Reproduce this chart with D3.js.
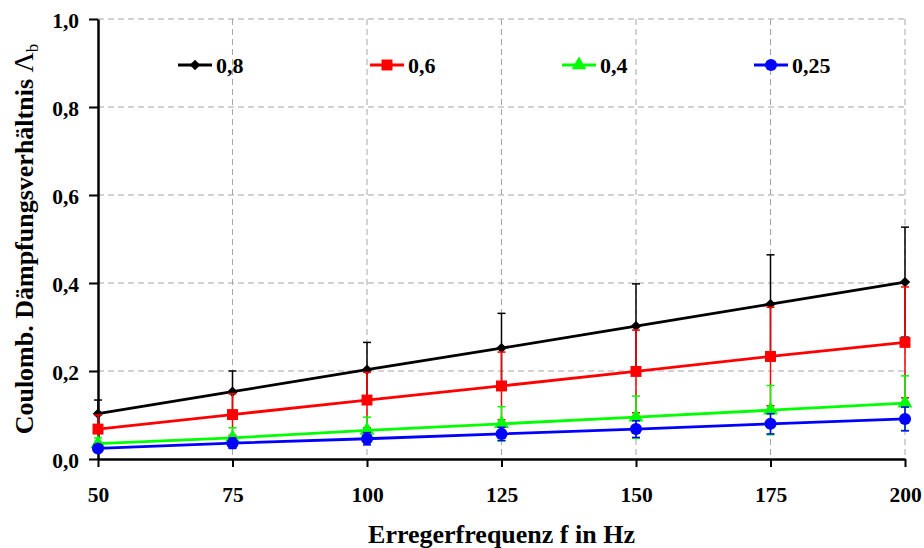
<!DOCTYPE html>
<html>
<head>
<meta charset="utf-8">
<script src="https://cdn.jsdelivr.net/npm/d3@7"></script>
<style>
  body { margin: 0; background: #fff; }
  text { font-family: "Liberation Serif", "Times New Roman", serif; font-weight: bold; }
</style>
</head>
<body>
<div id="chart"></div>
<script>
var svgWidth = 924;
var svgHeight = 548;

// data
var frequencies = [50, 75, 100, 125, 150, 175, 200];
var seriesNames = ["0,8", "0,6", "0,4", "0,25"];
var values08 = [0.103, 0.153, 0.203, 0.252, 0.302, 0.352, 0.402];
var errors08 = [0.031, 0.047, 0.062, 0.079, 0.096, 0.112, 0.125];
var values06 = [0.068, 0.101, 0.134, 0.166, 0.199, 0.233, 0.265];
var errors06 = [0.032, 0.047, 0.063, 0.077, 0.094, 0.112, 0.126];
var values04 = [0.035, 0.048, 0.065, 0.080, 0.095, 0.111, 0.127];
var errors04 = [0.013, 0.023, 0.030, 0.039, 0.048, 0.056, 0.062];
var values025 = [0.024, 0.036, 0.046, 0.057, 0.068, 0.080, 0.091];
var errors025 = [0.008, 0.012, 0.014, 0.015, 0.019, 0.023, 0.027];
var yTicks = [0, 0.2, 0.4, 0.6, 0.8, 1.0];

var colors = ["#000000", "#ff0000", "#00ff00", "#0000ff"];
// diamond = square turned 45 degrees
var symbols = [d3.symbolSquare, d3.symbolSquare, d3.symbolTriangle, d3.symbolCircle];
var symbolSizes = [55, 120, 95, 115];
var symbolRotate = [45, 0, 0, 0];

var series = [
  { name: seriesNames[0], values: values08, errors: errors08 },
  { name: seriesNames[1], values: values06, errors: errors06 },
  { name: seriesNames[2], values: values04, errors: errors04 },
  { name: seriesNames[3], values: values025, errors: errors025 }
];

// plot box (window.top is reserved, so plot* names)
var plotLeft = 98, plotRight = 905, plotTop = 19, plotBottom = 459;

var svg = d3.select("#chart")
  .append("svg")
  .attr("width", svgWidth)
  .attr("height", svgHeight);

var xScale = d3.scaleLinear().domain([50, 200]).range([plotLeft, plotRight]);
var yScale = d3.scaleLinear().domain([0, 1]).range([plotBottom, plotTop]);

var locale = d3.formatLocale({ decimal: ",", thousands: ".", grouping: [3], currency: ["", " €"] });
var yFormat = locale.format(".1f");

// dashed grid
svg.append("g")
  .selectAll("line")
  .data(yTicks.slice(1))
  .enter()
  .append("line")
  .attr("x1", plotLeft)
  .attr("x2", plotRight)
  .attr("y1", d => yScale(d))
  .attr("y2", d => yScale(d))
  .attr("stroke", "#a6a6a6")
  .attr("stroke-width", 1)
  .attr("stroke-dasharray", "6,4");

svg.append("g")
  .selectAll("line")
  .data(frequencies.slice(1))
  .enter()
  .append("line")
  .attr("x1", d => xScale(d))
  .attr("x2", d => xScale(d))
  .attr("y1", plotTop)
  .attr("y2", plotBottom)
  .attr("stroke", "#a6a6a6")
  .attr("stroke-width", 1)
  .attr("stroke-dasharray", "6,4");

// axes
var bottomAxis = d3.axisBottom(xScale)
  .tickValues(frequencies)
  .tickFormat(d3.format("d"))
  .tickSize(8)
  .tickSizeOuter(0)
  .tickPadding(20);

var leftAxis = d3.axisLeft(yScale)
  .tickValues(yTicks)
  .tickFormat(yFormat)
  .tickSize(9)
  .tickSizeOuter(0)
  .tickPadding(10);

var xAxis = svg.append("g")
  .attr("transform", `translate(0, ${plotBottom})`)
  .call(bottomAxis);

var yAxis = svg.append("g")
  .attr("transform", `translate(${plotLeft}, 0)`)
  .call(leftAxis);

[xAxis, yAxis].forEach(function(ax) {
  ax.attr("font-size", null).attr("font-family", null);
  ax.select(".domain").attr("stroke", "#000").attr("stroke-width", 2.5);
  ax.selectAll(".tick line").attr("stroke", "#000").attr("stroke-width", 2);
  ax.selectAll(".tick text")
    .attr("fill", "#000")
    .style("font-size", "21.5px");
});
yAxis.selectAll(".tick text").attr("dy", "0.4em");

// series: error bars, line, markers
var line = d3.line()
  .x((d, i) => xScale(frequencies[i]))
  .y(d => yScale(d));

series.forEach(function(s, k) {
  var g = svg.append("g");
  var color = colors[k];

  var bars = g.selectAll(".err")
    .data(s.values)
    .enter()
    .append("g");

  bars.append("line")
    .attr("x1", (d, i) => xScale(frequencies[i]))
    .attr("x2", (d, i) => xScale(frequencies[i]))
    .attr("y1", (d, i) => yScale(d - s.errors[i]))
    .attr("y2", (d, i) => yScale(d + s.errors[i]))
    .attr("stroke", color)
    .attr("stroke-width", 1.5);

  [-1, 1].forEach(function(sign) {
    bars.append("line")
      .attr("x1", (d, i) => xScale(frequencies[i]) - 4)
      .attr("x2", (d, i) => xScale(frequencies[i]) + 4)
      .attr("y1", (d, i) => yScale(d + sign * s.errors[i]))
      .attr("y2", (d, i) => yScale(d + sign * s.errors[i]))
      .attr("stroke", color)
      .attr("stroke-width", 1.5);
  });

  g.append("path")
    .datum(s.values)
    .attr("d", line)
    .attr("fill", "none")
    .attr("stroke", color)
    .attr("stroke-width", 2.8);

  g.selectAll(".marker")
    .data(s.values)
    .enter()
    .append("path")
    .attr("transform", (d, i) => `translate(${xScale(frequencies[i])}, ${yScale(d)}) rotate(${symbolRotate[k]})`)
    .attr("d", d3.symbol().type(symbols[k]).size(symbolSizes[k]))
    .attr("fill", color);
});

// legend
var legend = svg.append("g").attr("transform", "translate(178, 65)");
series.forEach(function(s, k) {
  var item = legend.append("g").attr("transform", `translate(${k * 192}, 0)`);
  item.append("line")
    .attr("x1", 0).attr("x2", 34)
    .attr("y1", 0).attr("y2", 0)
    .attr("stroke", colors[k])
    .attr("stroke-width", 2.8);
  item.append("path")
    .attr("transform", `translate(17, 0) rotate(${symbolRotate[k]})`)
    .attr("d", d3.symbol().type(symbols[k]).size(symbolSizes[k]))
    .attr("fill", colors[k]);
  item.append("text")
    .attr("x", 38)
    .attr("y", 7.5)
    .style("font-size", "22px")
    .text(s.name);
});

// axis titles
svg.append("text")
  .attr("x", (plotLeft + plotRight) / 2)
  .attr("y", 543)
  .attr("text-anchor", "middle")
  .style("font-size", "26px")
  .text("Erregerfrequenz f in Hz");

var yTitle = svg.append("text")
  .attr("transform", `translate(33, ${(plotTop + plotBottom) / 2}) rotate(-90)`)
  .attr("text-anchor", "middle")
  .style("font-size", "26px");
yTitle.append("tspan").text("Coulomb. Dämpfungsverhältnis  ");
yTitle.append("tspan").style("font-weight", "normal").style("font-size", "28px").text("Λ");
yTitle.append("tspan").attr("dy", 5).style("font-size", "17px").style("font-weight", "normal").text("b");
</script>
</body>
</html>
